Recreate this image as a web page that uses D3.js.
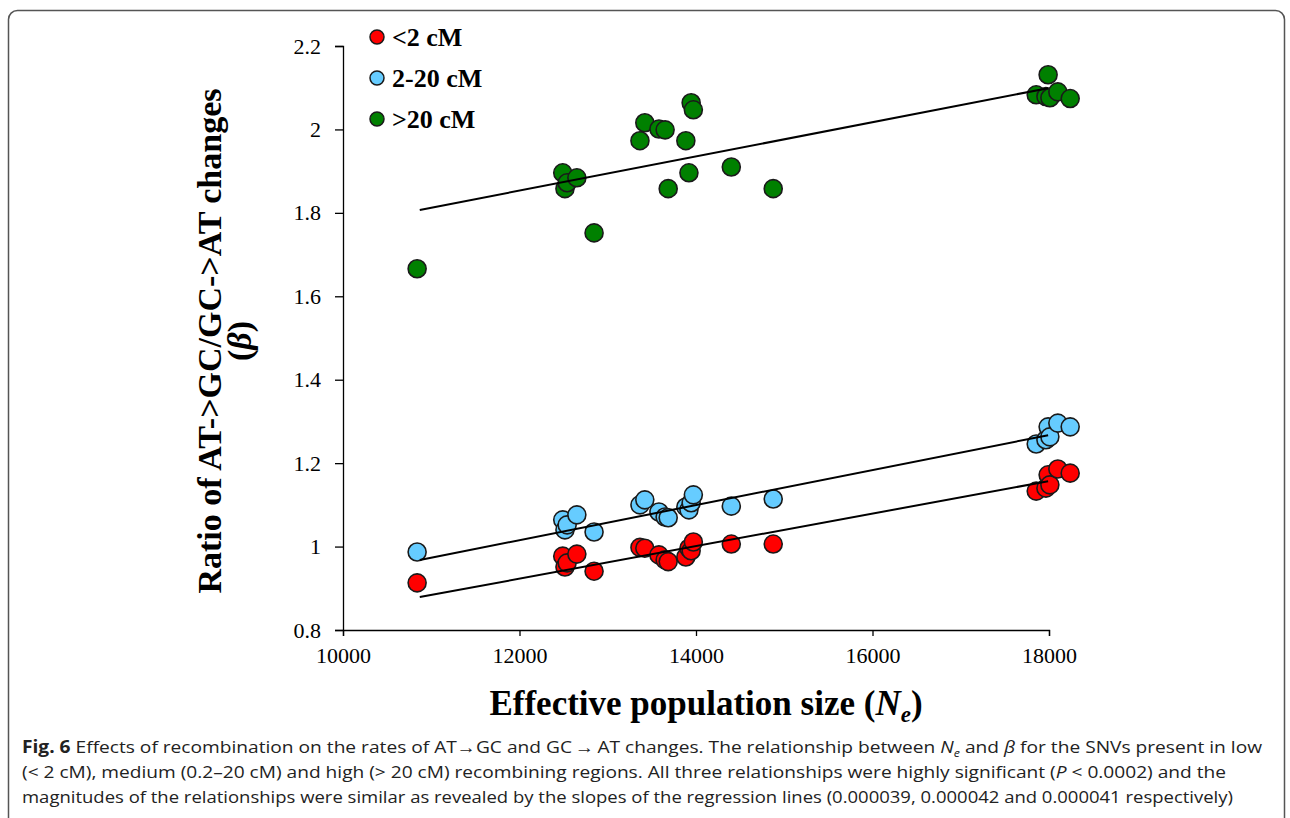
<!DOCTYPE html>
<html lang="en">
<head>
  <meta charset="utf-8">
  <title>Fig. 6</title>
  <script src="https://cdn.jsdelivr.net/npm/d3@7"></script>
  <style>
    body { margin: 0; background: #fff; }
    svg { display: block; }
  </style>
</head>
<body>
  <script>

    // effective population size of each sample (shared by the three series)
    const neValues = [10840, 12490, 12515, 12540, 12650, 12845, 13365, 13420, 13580, 13650,
                      13685, 13885, 13920, 13945, 13970, 14400, 14875, 17855, 17965, 17990,
                      18010, 18100, 18240];

    // beta, one array per recombination class
    const betaLow = [0.913, 0.977, 0.951, 0.961, 0.982, 0.941, 0.998, 0.996, 0.980, 0.968,
                     0.964, 0.975, 0.996, 0.990, 1.011, 1.006, 1.006, 1.133, 1.140, 1.172,
                     1.148, 1.186, 1.176];
    const betaMid = [0.987, 1.064, 1.040, 1.052, 1.076, 1.035, 1.100, 1.112, 1.083, 1.071,
                     1.069, 1.095, 1.088, 1.105, 1.124, 1.097, 1.114, 1.246, 1.256, 1.287,
                     1.263, 1.296, 1.287];
    const betaHigh = [1.666, 1.896, 1.858, 1.872, 1.884, 1.752, 1.973, 2.016, 2.001, 1.999,
                      1.858, 1.973, 1.896, 2.064, 2.047, 1.910, 1.858, 2.083, 2.079, 2.131,
                      2.076, 2.090, 2.074];

    const seriesNames = ["<2 cM", "2-20 cM", ">20 cM"];
    const seriesColors = ["#ff0000", "#66ccff", "#008000"];

    // regression lines: value at the first x, and slope
    const regX = [10870, 17990];
    const regStart = [0.879, 0.968, 1.807];
    const regSlope = [0.000039, 0.000042, 0.000041];

    const xTicks = [10000, 12000, 14000, 16000, 18000];
    const yTicks = [0.8, 1, 1.2, 1.4, 1.6, 1.8, 2, 2.2];

    const W = 1290, H = 818;
    const serif = "'Liberation Serif', 'Times New Roman', serif";

    const svg = d3.select("body").append("svg")
      .attr("width", W)
      .attr("height", H);

    // figure frame
    svg.append("rect")
      .attr("x", 8.5).attr("y", 10.5)
      .attr("width", 1276).attr("height", 860)
      .attr("rx", 9)
      .attr("fill", "none")
      .attr("stroke", "#555")
      .attr("stroke-width", 1.5);

    const x = d3.scaleLinear().domain([10000, 18000]).range([343, 1049]);
    const y = d3.scaleLinear().domain([0.8, 2.2]).range([630, 46]);

    const xAxis = d3.axisBottom(x).tickValues(xTicks).tickSize(6).tickPadding(8)
      .tickFormat(d3.format("d"));
    const yAxis = d3.axisLeft(y).tickValues(yTicks).tickSize(8).tickPadding(14)
      .tickFormat(d => d === 1 || d === 2 ? d3.format("d")(d) : d3.format(".1f")(d));

    const gx = svg.append("g")
      .attr("transform", "translate(0," + y(0.8) + ")")
      .call(xAxis);
    const gy = svg.append("g")
      .attr("transform", "translate(" + x(10000) + ",0)")
      .call(yAxis);

    [gx, gy].forEach(g => {
      g.select(".domain").attr("stroke", "#000").attr("stroke-width", 1.3);
      g.selectAll(".tick line").attr("stroke", "#000").attr("stroke-width", 1.3);
      g.selectAll(".tick text")
        .attr("fill", "#000")
        .style("font-family", serif)
        .style("font-size", "22px");
    });
    gx.selectAll(".tick text").attr("dy", "0.85em");

    // points
    const allBeta = [betaLow, betaMid, betaHigh];
    allBeta.forEach((betas, s) => {
      svg.append("g").selectAll("circle")
        .data(betas.map((b, i) => ({ ne: neValues[i], beta: b })))
        .enter()
        .append("circle")
        .attr("cx", d => x(d.ne))
        .attr("cy", d => y(d.beta))
        .attr("r", 9)
        .attr("fill", seriesColors[s])
        .attr("stroke", "#1a1a1a")
        .attr("stroke-width", 1.6);
    });

    // regression lines on top
    const line = d3.line().x(d => x(d[0])).y(d => y(d[1]));
    regStart.forEach((b0, s) => {
      const pts = regX.map(v => [v, b0 + regSlope[s] * (v - regX[0])]);
      svg.append("path")
        .attr("d", line(pts))
        .attr("fill", "none")
        .attr("stroke", "#000")
        .attr("stroke-width", 2);
    });

    // legend
    const legend = svg.append("g").attr("id", "legend");
    seriesNames.forEach((name, i) => {
      legend.append("circle")
        .attr("cx", 377)
        .attr("cy", 37 + i * 41)
        .attr("r", 7)
        .attr("fill", seriesColors[i])
        .attr("stroke", "#1a1a1a")
        .attr("stroke-width", 1.5);
      legend.append("text")
        .attr("x", 392)
        .attr("y", 46 + i * 41)
        .style("font-family", serif)
        .style("font-size", "26px")
        .style("font-weight", "bold")
        .text(name);
    });

    // axis titles
    const yTitle = svg.append("text")
      .attr("transform", "translate(221,341) rotate(-90)")
      .attr("text-anchor", "middle")
      .style("font-family", serif)
      .style("font-size", "34px")
      .style("font-weight", "bold");
    yTitle.append("tspan").attr("x", 0).attr("y", 0).text("Ratio of AT->GC/GC->AT changes");
    const yl2 = yTitle.append("tspan").attr("x", 0).attr("y", 30);
    yl2.append("tspan").text("(");
    yl2.append("tspan").style("font-style", "italic").text("β");
    yl2.append("tspan").text(")");

    const xTitle = svg.append("text")
      .attr("x", 706)
      .attr("y", 715)
      .attr("text-anchor", "middle")
      .style("font-family", serif)
      .style("font-size", "35px")
      .style("font-weight", "bold");
    xTitle.append("tspan").text("Effective population size (");
    xTitle.append("tspan").style("font-style", "italic").text("N");
    xTitle.append("tspan").style("font-style", "italic").style("font-size", "23px").attr("dy", 7).text("e");
    xTitle.append("tspan").attr("dy", -7).text(")");

    // caption
    const capFont = "'Open Sans', 'Noto Sans', sans-serif";
    const cap = [
      [["b", "Fig. 6"], ["r", " Effects of recombination on the rates of AT\u2192GC and GC\u2009\u2192\u2009AT changes. The relationship between "],
       ["i", "N"], ["sub", "e"], ["r", " and "], ["i", "\u03b2"], ["r", " for the SNVs present in low"]],
      [["r", "(< 2 cM), medium (0.2\u201320 cM) and high (> 20 cM) recombining regions. All three relationships were highly significant ("],
       ["i", "P"], ["r", " < 0.0002) and the"]],
      [["r", "magnitudes of the relationships were similar as revealed by the slopes of the regression lines (0.000039, 0.000042 and 0.000041 respectively)"]]
    ];
    const capWidths = [1240, 1204, 1211];
    cap.forEach((parts, li) => {
      const t = svg.append("text")
        .attr("x", 22)
        .attr("y", 753 + li * 25)
        .attr("textLength", capWidths[li])
        .attr("lengthAdjust", "spacingAndGlyphs")
        .style("font-family", capFont)
        .style("font-size", "17px")
        .attr("fill", "#222");
      parts.forEach((p, k) => {
        const sp = t.append("tspan").text(p[1]);
        if (p[0] === "b") sp.style("font-weight", "bold");
        if (p[0] === "i") sp.style("font-style", "italic");
        if (p[0] === "sub") sp.style("font-style", "italic").style("font-size", "11px").attr("dy", 4);
        if (k > 0 && parts[k - 1][0] === "sub") sp.attr("dy", -4);
      });
    });

  </script>
</body>
</html>
